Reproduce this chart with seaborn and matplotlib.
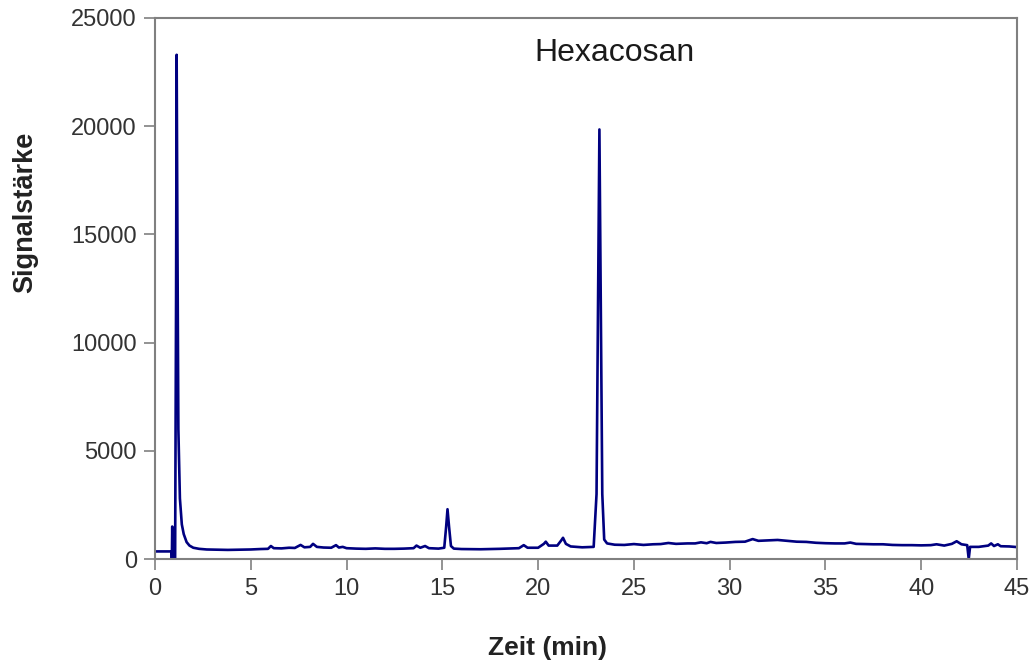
import matplotlib
matplotlib.use("Agg")
import matplotlib.pyplot as plt
import seaborn as sns
import pandas as pd

# Retention time (min) and signal intensity
zeit = [0.0, 0.5, 0.87, 0.88, 0.90, 0.92, 1.05, 1.10, 1.13, 1.17, 1.22, 1.30, 1.40,
        1.50, 1.65, 1.80, 2.00, 2.30, 2.70, 3.20, 3.80, 4.50, 5.00, 5.50, 5.90,
        6.05, 6.20, 6.60, 7.00, 7.30, 7.60, 7.80, 8.10, 8.25, 8.45, 8.80, 9.20,
        9.45, 9.60, 9.80, 10.0, 10.5, 11.0, 11.5, 12.0, 12.5, 13.0, 13.5, 13.65,
        13.85, 14.1, 14.3, 14.8, 15.1, 15.2, 15.27, 15.35, 15.45, 15.6, 16.0,
        17.0, 18.0, 19.0, 19.25, 19.45, 20.0, 20.3, 20.4, 20.55, 21.0, 21.2,
        21.3, 21.45, 21.7, 22.3, 22.9, 23.05, 23.13, 23.2, 23.27, 23.35, 23.45,
        23.6, 24.0, 24.5, 25.0, 25.5, 26.0, 26.4, 26.8, 27.2, 27.8, 28.2, 28.5,
        28.8, 29.0, 29.3, 29.8, 30.3, 30.8, 31.2, 31.5, 32.0, 32.5, 33.0, 33.5,
        34.0, 34.5, 35.0, 35.5, 36.0, 36.3, 36.6, 37.5, 38.0, 38.5, 39.0, 39.5,
        40.0, 40.5, 40.8, 41.2, 41.6, 41.85, 42.1, 42.4, 42.48, 42.55, 43.0,
        43.5, 43.65, 43.8, 44.0, 44.15, 44.6, 45.0]
signal = [350, 350, 350, 0, 1500, 0, 0, 12000, 23300, 15000, 6000, 2800, 1600,
          1150, 780, 620, 520, 470, 440, 430, 420, 430, 440, 460, 470,
          600, 500, 490, 520, 510, 650, 540, 560, 700, 560, 530, 520,
          640, 530, 560, 500, 480, 470, 490, 470, 470, 480, 500, 620,
          520, 600, 500, 480, 520, 1500, 2300, 1500, 600, 480, 460,
          450, 470, 500, 640, 520, 520, 700, 800, 620, 620, 850,
          980, 700, 580, 540, 560, 3000, 12000, 19850, 12000, 3000, 900,
          720, 660, 650, 690, 650, 680, 690, 740, 700, 720, 720, 770,
          730, 790, 740, 760, 790, 800, 920, 840, 860, 880, 840, 800,
          790, 750, 730, 720, 720, 760, 700, 680, 680, 650, 640, 640,
          630, 640, 680, 620, 700, 820, 680, 640, 0, 560, 560,
          620, 720, 600, 680, 590, 580, 550]

x_ticks = [0, 5, 10, 15, 20, 25, 30, 35, 40, 45]
y_ticks = [0, 5000, 10000, 15000, 20000, 25000]

df = pd.DataFrame({"Zeit": zeit, "Signal": signal})

sns.set_theme(style="white")
plt.rcParams["font.family"] = ["Liberation Sans", "DejaVu Sans"]

fig = plt.figure(figsize=(10.35, 6.63), dpi=100)
ax = fig.add_axes([155/1035, 1 - 559/663, (1017-155)/1035, (559-18)/663])

sns.lineplot(data=df, x="Zeit", y="Signal", ax=ax, color="#000080",
             linewidth=1.9, estimator=None, sort=False)

ax.set_xlim(0, 45)
ax.set_ylim(0, 25000)
ax.set_xticks(x_ticks)
ax.set_yticks(y_ticks)
ax.set_xticklabels([str(v) for v in x_ticks])
ax.set_yticklabels([str(v) for v in y_ticks])

for s in ax.spines.values():
    s.set_visible(True)
    s.set_color("#808080")
    s.set_linewidth(1.5)

ax.tick_params(axis="both", which="major", direction="out", length=8,
               width=1.2, color="#808080", labelsize=17, labelcolor="#333333",
               bottom=True, left=True)
ax.tick_params(axis="x", pad=6)
ax.tick_params(axis="y", pad=5)

ax.set_xlabel("Zeit (min)", fontsize=19, fontweight="bold", color="#222222")
ax.xaxis.set_label_coords(0.455, -0.142)
ax.set_ylabel("Signalstärke", fontsize=19.5, fontweight="bold", color="#222222")
ax.yaxis.set_label_coords(-0.135, 0.641)

ax.text(0.533, 0.935, "Hexacosan", transform=ax.transAxes, ha="center", va="center",
        fontsize=23, color="#1a1a1a")

ax.grid(False)
fig.savefig("out.png", dpi=100)
